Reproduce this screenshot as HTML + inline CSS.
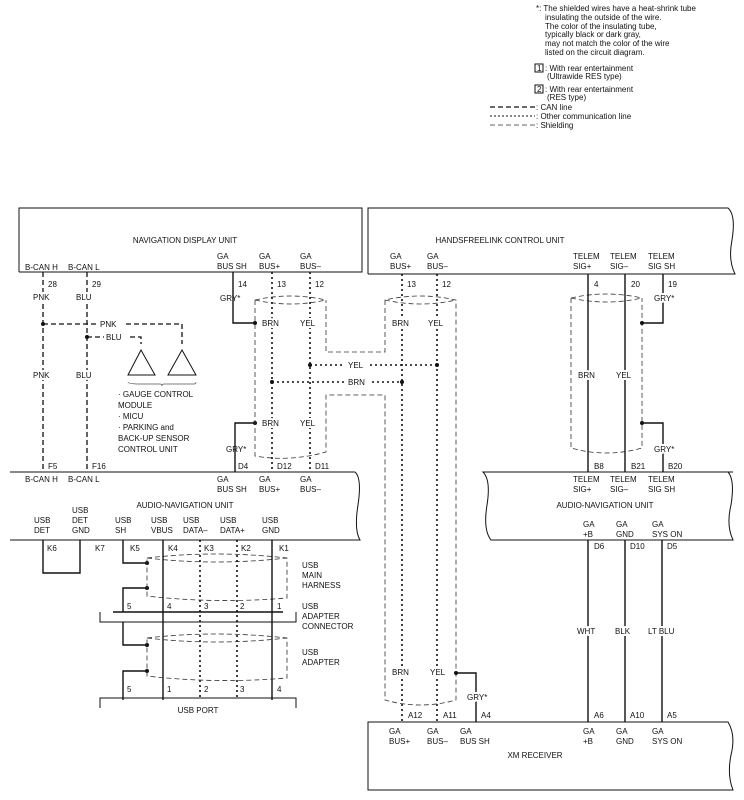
<!DOCTYPE html>
<html><head><meta charset="utf-8"><style>
html,body{margin:0;padding:0;background:#fff}
svg{display:block}
text{font-family:"Liberation Sans",Arial,sans-serif;font-size:8px;fill:#111}
.lb{stroke:#fff;stroke-width:4;paint-order:stroke;stroke-linejoin:round}
.s{stroke:#111;stroke-width:1.4;fill:none}
.t{stroke:#111;stroke-width:1;fill:none}
.can{stroke:#111;stroke-width:1.3;fill:none;stroke-dasharray:5,3}
.dot{stroke:#111;stroke-width:1.6;fill:none;stroke-dasharray:2,3}
.sh{stroke:#333;stroke-width:0.8;fill:none;stroke-dasharray:5,3}
</style></head><body>
<svg width="744" height="800" viewBox="0 0 744 800" xmlns="http://www.w3.org/2000/svg">
<!-- Legend -->
<g font-size="7.5">
<text x="536" y="11">*: The shielded wires have a heat-shrink tube</text>
<text x="545" y="20">insulating the outside of the wire.</text>
<text x="545" y="29">The color of the insulating tube,</text>
<text x="545" y="37">typically black or dark gray,</text>
<text x="545" y="46">may not match the color of the wire</text>
<text x="545" y="55">listed on the circuit diagram.</text>
<rect x="535" y="64" width="8" height="8" class="t"/><text x="537" y="71" font-size="7">1</text>
<text x="545" y="71">: With rear entertainment</text>
<text x="547" y="79">(Ultrawide RES type)</text>
<rect x="535" y="85" width="8" height="8" class="t"/><text x="537" y="92" font-size="7">2</text>
<text x="545" y="92">: With rear entertainment</text>
<text x="547" y="100">(RES type)</text>
<text x="536" y="110">: CAN line</text>
<text x="536" y="119">: Other communication line</text>
<text x="536" y="128">: Shielding</text>
</g>
<line x1="490" y1="107" x2="535" y2="107" class="can"/>
<line x1="490" y1="116" x2="535" y2="116" stroke="#111" stroke-width="1" stroke-dasharray="2,2"/>
<line x1="490" y1="125" x2="535" y2="125" class="sh"/>

<!-- Navigation display unit -->
<path d="M19 272 V208 H362 V272 H19" class="t"/>
<text x="185" y="243" text-anchor="middle">NAVIGATION DISPLAY UNIT</text>
<text x="25" y="270">B-CAN H</text><text x="68" y="270">B-CAN L</text>
<text x="217" y="259">GA</text><text x="217" y="269">BUS SH</text>
<text x="259" y="259">GA</text><text x="259" y="269">BUS+</text>
<text x="300" y="259">GA</text><text x="300" y="269">BUS–</text>

<!-- Handsfreelink -->
<path d="M368 274 V208 H728 Q736 215 732 240 Q728 260 735 274 H368" class="t"/>
<text x="500" y="243" text-anchor="middle">HANDSFREELINK CONTROL UNIT</text>
<text x="390" y="259">GA</text><text x="390" y="269">BUS+</text>
<text x="427" y="259">GA</text><text x="427" y="269">BUS–</text>
<text x="573" y="259">TELEM</text><text x="573" y="269">SIG+</text>
<text x="610" y="259">TELEM</text><text x="610" y="269">SIG–</text>
<text x="648" y="259">TELEM</text><text x="648" y="269">SIG SH</text>

<!-- CAN wires -->
<line x1="43" y1="272" x2="43" y2="472" class="can"/>
<line x1="87" y1="272" x2="87" y2="472" class="can"/>
<text x="48" y="287">28</text><text x="92" y="287">29</text>
<text x="33" y="300" class="lb">PNK</text><text x="76" y="300" class="lb">BLU</text>
<text x="33" y="378" class="lb">PNK</text><text x="76" y="378" class="lb">BLU</text>
<circle cx="43" cy="324" r="2" fill="#111"/><circle cx="87" cy="337" r="2" fill="#111"/>
<path d="M43 324 H98 M126 324 H182 V344" class="can"/>
<text x="100" y="327">PNK</text>
<path d="M87 337 H104 M130 337 H141 V344" class="can"/>
<text x="106" y="340">BLU</text>
<path d="M141 350 L128 375 H155 Z" class="t"/>
<path d="M182 350 L168 375 H196 Z" class="t"/>
<path d="M128 382 Q128 384 140 384 H160 Q162 384 162 386 Q162 384 164 384 H194 Q196 384 196 382" stroke="#555" stroke-width="0.7" fill="none"/>
<text x="118" y="397">· GAUGE CONTROL</text>
<text x="118" y="408">MODULE</text>
<text x="118" y="419">· MICU</text>
<text x="118" y="430">· PARKING and</text>
<text x="118" y="441">BACK-UP SENSOR</text>
<text x="118" y="452">CONTROL UNIT</text>
<text x="48" y="469">F5</text><text x="92" y="469">F16</text>

<!-- Left shielded pair -->
<path d="M233 272 V323 H255 M255 423 H235 V472" class="s"/>
<circle cx="255" cy="323" r="2" fill="#111"/><circle cx="255" cy="423" r="2" fill="#111"/>
<text x="238" y="287">14</text><text x="220" y="301">GRY*</text><text x="226" y="452">GRY*</text><text x="238" y="469">D4</text>
<path d="M255 300 Q290 292 326 300 M255 300 Q290 308 326 300 M255 300 V456 Q290 462 326 452 V395 H385 V700 Q420 710 456 700 V300 Q420 292 385 300 Q420 308 456 300 M385 300 V352 H326 V300" class="sh"/>
<line x1="272" y1="272" x2="272" y2="472" class="dot"/>
<line x1="310" y1="272" x2="310" y2="472" class="dot"/>
<text x="277" y="287">13</text><text x="315" y="287">12</text>
<text x="277" y="469">D12</text><text x="315" y="469">D11</text>
<text x="262" y="326" class="lb">BRN</text><text x="300" y="326" class="lb">YEL</text>
<text x="262" y="426" class="lb">BRN</text><text x="300" y="426" class="lb">YEL</text>
<circle cx="310" cy="365" r="2" fill="#111"/><circle cx="272" cy="382" r="2" fill="#111"/>
<path d="M310 365 H345 M370 365 H437" class="dot"/>
<text x="348" y="368">YEL</text>
<path d="M272 382 H345 M372 382 H402" class="dot"/>
<text x="348" y="385">BRN</text>
<circle cx="437" cy="365" r="2" fill="#111"/><circle cx="402" cy="382" r="2" fill="#111"/>

<!-- Right GA pair -->
<line x1="402" y1="274" x2="402" y2="722" class="dot"/>
<line x1="437" y1="274" x2="437" y2="722" class="dot"/>
<text x="407" y="287">13</text><text x="442" y="287">12</text>
<text x="392" y="326" class="lb">BRN</text><text x="428" y="326" class="lb">YEL</text>
<text x="392" y="675" class="lb">BRN</text><text x="430" y="675" class="lb">YEL</text>
<circle cx="456" cy="673" r="2" fill="#111"/>
<path d="M456 673 H476 V722" class="s"/>
<text x="467" y="700" class="lb">GRY*</text>
<text x="408" y="718">A12</text><text x="443" y="718">A11</text><text x="481" y="718">A4</text>

<!-- Telem -->
<path d="M571 298 Q606 290 642 298 M571 298 Q606 306 642 298 M571 298 V448 Q606 458 642 448 V298" class="sh"/>
<line x1="588" y1="274" x2="588" y2="472" class="s"/>
<line x1="625" y1="274" x2="625" y2="472" class="s"/>
<path d="M663 274 V323 H642 M642 423 H663 V472" class="s"/>
<circle cx="642" cy="323" r="2" fill="#111"/><circle cx="642" cy="423" r="2" fill="#111"/>
<text x="594" y="287">4</text><text x="631" y="287">20</text><text x="668" y="287">19</text>
<text x="654" y="301" class="lb">GRY*</text><text x="654" y="452" class="lb">GRY*</text>
<text x="578" y="378" class="lb">BRN</text><text x="616" y="378" class="lb">YEL</text>
<text x="594" y="469">B8</text><text x="631" y="469">B21</text><text x="668" y="469">B20</text>

<!-- Lower left audio-nav -->
<path d="M10 472 H355 Q362 478 358 505 Q354 530 360 540 H10" class="t"/>
<text x="25" y="482">B-CAN H</text><text x="68" y="482">B-CAN L</text>
<text x="217" y="482">GA</text><text x="217" y="492">BUS SH</text>
<text x="259" y="482">GA</text><text x="259" y="492">BUS+</text>
<text x="300" y="482">GA</text><text x="300" y="492">BUS–</text>
<text x="185" y="508" text-anchor="middle">AUDIO-NAVIGATION UNIT</text>
<text x="34" y="523">USB</text><text x="34" y="533">DET</text>
<text x="72" y="513">USB</text><text x="72" y="523">DET</text><text x="72" y="533">GND</text>
<text x="115" y="523">USB</text><text x="115" y="533">SH</text>
<text x="151" y="523">USB</text><text x="151" y="533">VBUS</text>
<text x="183" y="523">USB</text><text x="183" y="533">DATA–</text>
<text x="220" y="523">USB</text><text x="220" y="533">DATA+</text>
<text x="262" y="523">USB</text><text x="262" y="533">GND</text>
<text x="47" y="551">K6</text><text x="95" y="551">K7</text><text x="130" y="551">K5</text>
<text x="168" y="551">K4</text><text x="204" y="551">K3</text><text x="241" y="551">K2</text><text x="279" y="551">K1</text>
<path d="M43 540 V573 H80 V540" class="s"/>
<path d="M123 540 V563 H147 M147 588 H123 V612" class="s"/>
<circle cx="147" cy="563" r="2" fill="#111"/><circle cx="147" cy="588" r="2" fill="#111"/>
<path d="M147 558 Q215 550 287 558 V598 Q215 604 147 596 Z M147 558 Q215 566 287 558" class="sh"/>
<line x1="163" y1="540" x2="163" y2="700" class="s"/>
<line x1="272" y1="540" x2="272" y2="700" class="s"/>
<line x1="200" y1="540" x2="200" y2="700" class="dot"/>
<line x1="237" y1="540" x2="237" y2="700" class="dot"/>
<text x="127" y="609">5</text><text x="167" y="609">4</text><text x="204" y="609">3</text><text x="240" y="609">2</text><text x="277" y="609">1</text>
<line x1="113" y1="612" x2="283" y2="612" class="s"/>
<path d="M100 612 V622 H296 V612" class="t"/>
<text x="302" y="568">USB</text><text x="302" y="578">MAIN</text><text x="302" y="588">HARNESS</text>
<text x="302" y="609">USB</text><text x="302" y="619">ADAPTER</text><text x="302" y="629">CONNECTOR</text>
<path d="M123 622 V645 H147 M147 671 H123 V700" class="s"/>
<circle cx="147" cy="645" r="2" fill="#111"/><circle cx="147" cy="671" r="2" fill="#111"/>
<path d="M147 638 Q215 630 287 638 V678 Q215 684 147 676 Z M147 638 Q215 646 287 638" class="sh"/>
<text x="302" y="655">USB</text><text x="302" y="665">ADAPTER</text>
<text x="127" y="692">5</text><text x="167" y="692">1</text><text x="204" y="692">2</text><text x="240" y="692">3</text><text x="277" y="692">4</text>
<path d="M100 708 V698 H296 V708" class="t"/>
<text x="198" y="713" text-anchor="middle">USB PORT</text>

<!-- Right audio-nav -->
<path d="M733 472 H483 Q491 480 487 505 Q483 530 491 540 H733 Q726 525 731 505 Q735 480 728 472" class="t"/>
<text x="573" y="482">TELEM</text><text x="573" y="492">SIG+</text>
<text x="610" y="482">TELEM</text><text x="610" y="492">SIG–</text>
<text x="648" y="482">TELEM</text><text x="648" y="492">SIG SH</text>
<text x="605" y="508" text-anchor="middle">AUDIO-NAVIGATION UNIT</text>
<text x="583" y="527">GA</text><text x="583" y="537">+B</text>
<text x="616" y="527">GA</text><text x="616" y="537">GND</text>
<text x="652" y="527">GA</text><text x="652" y="537">SYS ON</text>
<line x1="588" y1="540" x2="588" y2="722" class="s"/>
<line x1="625" y1="540" x2="625" y2="722" class="s"/>
<line x1="662" y1="540" x2="662" y2="722" class="s"/>
<text x="594" y="549">D6</text><text x="630" y="549">D10</text><text x="667" y="549">D5</text>
<text x="577" y="634" class="lb">WHT</text>
<text x="615" y="634" class="lb">BLK</text>
<text x="648" y="634" class="lb">LT BLU</text>
<text x="594" y="718">A6</text><text x="630" y="718">A10</text><text x="667" y="718">A5</text>

<!-- XM receiver -->
<path d="M368 722 H728 Q736 735 731 755 Q727 775 733 790 H368 Z" class="t"/>
<text x="389" y="734">GA</text><text x="389" y="744">BUS+</text>
<text x="427" y="734">GA</text><text x="427" y="744">BUS–</text>
<text x="460" y="734">GA</text><text x="460" y="744">BUS SH</text>
<text x="583" y="734">GA</text><text x="583" y="744">+B</text>
<text x="616" y="734">GA</text><text x="616" y="744">GND</text>
<text x="652" y="734">GA</text><text x="652" y="744">SYS ON</text>
<text x="535" y="758" text-anchor="middle">XM RECEIVER</text>
</svg>
</body></html>
